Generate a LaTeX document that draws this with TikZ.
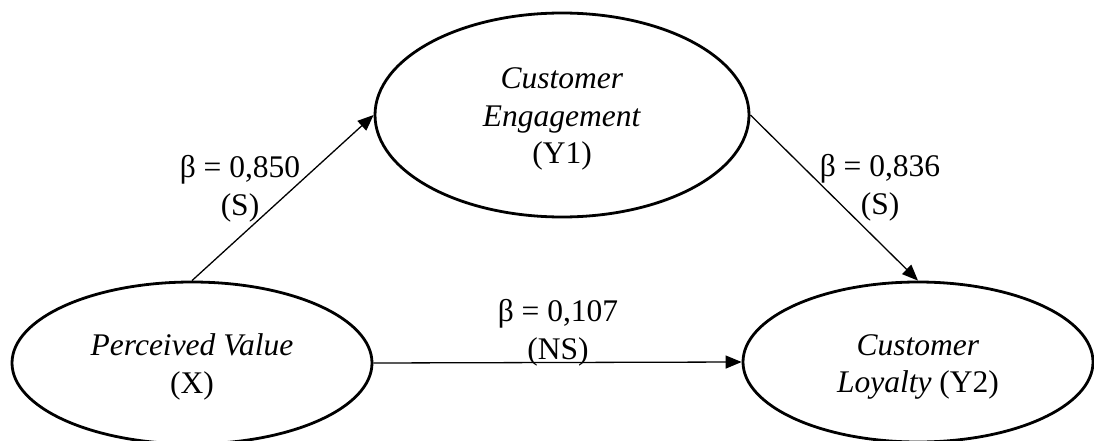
\documentclass[tikz,border=0pt]{standalone}
\usepackage{fontspec}
\setmainfont{Liberation Serif}
\usetikzlibrary{arrows.meta,shapes.geometric}
\begin{document}
\begin{tikzpicture}[x=1pt,y=-1pt,
  latent/.style={draw,ellipse,line width=2.8pt,inner sep=0pt},
  ltext/.style={align=center,inner sep=0pt,font=\fontsize{31.5}{37.5}\selectfont},
  path/.style={line width=1.3pt,-{Triangle[length=16pt,width=13pt]}},
  coef/.style={align=center,inner sep=0pt,font=\fontsize{31.5}{37.5}\selectfont}]
\useasboundingbox (0,0) rectangle (1094,441);
\node[latent,minimum width=360pt,minimum height=162pt] (X) at (192,363) {};
\node[latent,minimum width=374pt,minimum height=204pt] (Y1) at (562,115) {};
\node[latent,minimum width=350pt,minimum height=160pt] (Y2) at (918,362) {};
\node[ltext] (Xt) at ([yshift=-4pt]X.center) {\textit{Perceived Value}\\(X)};
\node[ltext] (Y1t) at ([yshift=-4pt]Y1.center) {\textit{Customer}\\\textit{Engagement}\\(Y1)};
\node[ltext] (Y2t) at ([yshift=-5pt]Y2.center) {\textit{Customer}\\\textit{Loyalty} (Y2)};
\draw[path] (X.north) -- (Y1.west);
\draw[path] (Y1.east) -- (Y2.north);
\draw[path] (X.east) -- (Y2.west);
\node[coef] (c1) at (240,189) {β = 0,850\\(S)};
\node[coef] (c2) at (880,188) {β = 0,836\\(S)};
\node[coef] (c3) at (558,333) {β = 0,107\\(NS)};
\end{tikzpicture}
\end{document}
